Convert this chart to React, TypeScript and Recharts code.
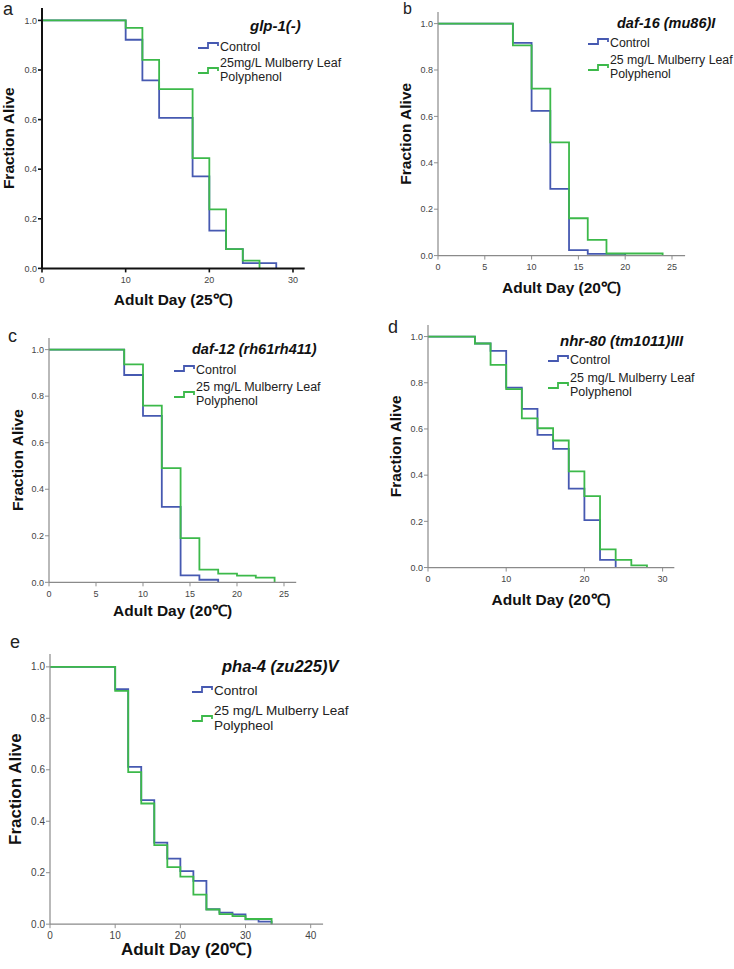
import { Label, Legend, Line, LineChart, XAxis, YAxis } from "recharts";

const BLUE = "#4659b1";
const GREEN = "#3cb94a";
const FONT = '"Liberation Sans", Arial, sans-serif';

// survival fractions, one step per scored day
const aCtrlDays = [0, 10, 12, 14, 18, 20, 22, 24, 28];
const aCtrl = [1, 0.922, 0.758, 0.607, 0.371, 0.152, 0.078, 0.021, 0];
const aTrtDays = [0, 10, 12, 14, 18, 20, 22, 24, 26];
const aTrt = [1, 0.97, 0.841, 0.723, 0.445, 0.238, 0.078, 0.031, 0];

const bCtrlDays = [0, 8, 10, 12, 14, 16, 20];
const bCtrl = [1, 0.917, 0.624, 0.288, 0.024, 0.007, 0];
const bTrtDays = [0, 8, 10, 12, 14, 16, 18, 24];
const bTrt = [1, 0.906, 0.72, 0.488, 0.161, 0.068, 0.009, 0];

const cCtrlDays = [0, 8, 10, 12, 14, 16, 18];
const cCtrl = [1, 0.891, 0.715, 0.324, 0.03, 0.011, 0];
const cTrtDays = [0, 8, 10, 12, 14, 16, 18, 20, 22, 24];
const cTrt = [1, 0.937, 0.759, 0.491, 0.19, 0.055, 0.037, 0.029, 0.02, 0];

const dCtrlDays = [0, 6, 8, 10, 12, 14, 16, 18, 20, 22, 24];
const dCtrl = [1, 0.97, 0.938, 0.779, 0.687, 0.574, 0.514, 0.342, 0.205, 0.033, 0];
const dTrtDays = [0, 6, 8, 10, 12, 14, 16, 18, 20, 22, 24, 26, 28];
const dTrt = [1, 0.97, 0.877, 0.772, 0.646, 0.603, 0.55, 0.416, 0.309, 0.079, 0.033, 0.009, 0];

const eCtrlDays = [0, 10, 12, 14, 16, 18, 20, 22, 24, 26, 28, 30, 32, 34];
const eCtrl = [1, 0.913, 0.611, 0.482, 0.317, 0.255, 0.206, 0.168, 0.058, 0.045, 0.038, 0.019, 0.01, 0];
const eTrtDays = [0, 10, 12, 14, 16, 18, 20, 22, 24, 26, 28, 30, 34];
const eTrt = [1, 0.907, 0.591, 0.469, 0.307, 0.222, 0.185, 0.115, 0.057, 0.039, 0.031, 0.02, 0];

const yTicks = [0, 0.2, 0.4, 0.6, 0.8, 1.0];
const ticks30 = [0, 10, 20, 30];
const ticks25 = [0, 5, 10, 15, 20, 25];
const ticks40 = [0, 10, 20, 30, 40];

const series = (days: number[], vals: number[]) => days.map((day, i) => ({ day, value: vals[i] }));

type Panel = {
  letter: string;
  letterPos: [number, number, number];
  title: string;
  titlePos: [number, number, number];
  xLabel: string;
  ctrl: { day: number; value: number }[];
  trt: { day: number; value: number }[];
  xTicks: number[];
  xMax: number;
  x0: number; // px of day 0
  xRef: [number, number]; // [day, px]
  y1: number; // px of 1.0
  y0: number; // px of 0.0
  yLabelX: number;
  xLabelBase: number;
  legend: { x: number; base: number; line1: string; line2: string; size: number; gap: number };
  axis: { color: string; width: number };
  big?: boolean;
};

const panels: Panel[] = [
  {
    letter: "a", letterPos: [3, 15, 18], title: "glp-1(-)", titlePos: [250, 31, 15],
    xLabel: "Adult Day (25℃)", ctrl: series(aCtrlDays, aCtrl), trt: series(aTrtDays, aTrt),
    xTicks: ticks30, xMax: 31.4, x0: 42, xRef: [30, 293], y1: 20, y0: 268,
    yLabelX: 9, xLabelBase: 305,
    legend: { x: 198, base: 51, line1: "25mg/L Mulberry Leaf", line2: "Polyphenol", size: 12.5, gap: 16 },
    axis: { color: "#111", width: 2 },
  },
  {
    letter: "b", letterPos: [403, 14, 16], title: "daf-16 (mu86)I", titlePos: [617, 28, 14.5],
    xLabel: "Adult Day (20℃)", ctrl: series(bCtrlDays, bCtrl), trt: series(bTrtDays, bTrt),
    xTicks: ticks25, xMax: 26.4, x0: 438, xRef: [25, 672], y1: 24, y0: 256,
    yLabelX: 405, xLabelBase: 293,
    legend: { x: 588, base: 47, line1: "25 mg/L Mulberry Leaf", line2: "Polyphenol", size: 12.3, gap: 17 },
    axis: { color: "#8a8a8a", width: 1.2 },
  },
  {
    letter: "c", letterPos: [8, 342, 18], title: "daf-12 (rh61rh411)", titlePos: [192, 354, 14.5],
    xLabel: "Adult Day (20℃)", ctrl: series(cCtrlDays, cCtrl), trt: series(cTrtDays, cTrt),
    xTicks: ticks25, xMax: 26.3, x0: 49, xRef: [25, 284], y1: 349.3, y0: 582,
    yLabelX: 18, xLabelBase: 616,
    legend: { x: 174, base: 374, line1: "25 mg/L Mulberry Leaf", line2: "Polyphenol", size: 12.5, gap: 17 },
    axis: { color: "#8a8a8a", width: 1.2 },
  },
  {
    letter: "d", letterPos: [388, 333, 18], title: "nhr-80 (tm1011)III", titlePos: [560, 346, 15],
    xLabel: "Adult Day (20℃)", ctrl: series(dCtrlDays, dCtrl), trt: series(dTrtDays, dTrt),
    xTicks: ticks30, xMax: 31.5, x0: 427.7, xRef: [30, 662.3], y1: 336.7, y0: 567.7,
    yLabelX: 395, xLabelBase: 605,
    legend: { x: 548, base: 364, line1: "25 mg/L Mulberry Leaf", line2: "Polyphenol", size: 12.5, gap: 18 },
    axis: { color: "#8a8a8a", width: 1.2 },
  },
  {
    letter: "e", letterPos: [10, 648, 18], title: "pha-4 (zu225)V", titlePos: [222, 672, 16.5],
    xLabel: "Adult Day (20℃)", ctrl: series(eCtrlDays, eCtrl), trt: series(eTrtDays, eTrt),
    xTicks: ticks40, xMax: 41.9, x0: 50, xRef: [40, 310.7], y1: 666.7, y0: 924,
    yLabelX: 15, xLabelBase: 955,
    legend: { x: 192, base: 695, line1: "25 mg/L Mulberry Leaf", line2: "Polypheol", size: 13.5, gap: 20 },
    axis: { color: "#8a8a8a", width: 1.2 },
    big: true,
  },
];

const Y_MAX = 1.05;
const Y_AXIS_W = 45;

function StepLegend({ lg }: { lg: Panel["legend"] }) {
  const b1 = 12;
  const b2 = b1 + lg.gap;
  const b3 = b2 + Math.ceil(lg.size) + 0.5;
  const txt = { fontFamily: FONT, fontSize: lg.size, fill: "#222" };
  return (
    <svg width={190} height={b3 + 6} style={{ display: "block" }}>
      <path d={`M0,${b1 - 3} H10 V${b1 - 8} H20 V${b1 - 5}`} stroke={BLUE} strokeWidth={1.8} fill="none" />
      <text x={22} y={b1} {...txt}>Control</text>
      <path d={`M0,${b2 + 6} H10 V${b2 + 1} H20 V${b2 + 4}`} stroke={GREEN} strokeWidth={1.8} fill="none" />
      <text x={22} y={b2} {...txt}>{lg.line1}</text>
      <text x={22} y={b3} {...txt}>{lg.line2}</text>
    </svg>
  );
}

function SurvivalPanel({ p }: { p: Panel }) {
  const pxPerDay = (p.xRef[1] - p.x0) / p.xRef[0];
  const plotRight = p.x0 + p.xMax * pxPerDay;
  const plotTop = p.y0 - Y_MAX * (p.y0 - p.y1);
  const mt = 2;
  const mr = 15;
  const left = p.x0 - Y_AXIS_W;
  const top = plotTop - mt;
  const width = plotRight + mr - left;
  const height = p.xLabelBase + 6 - top;
  const xh = height - mt - (p.y0 - plotTop);
  const tickFont = p.big ? 10 : 9;
  const titleFont = p.big ? 17 : 15.5;

  return (
    <div style={{ position: "absolute", left, top }}>
      <LineChart width={width} height={height} margin={{ top: mt, right: mr, bottom: 0, left: 0 }}>
        <XAxis
          type="number"
          dataKey="day"
          domain={[0, p.xMax]}
          ticks={p.xTicks}
          height={xh}
          stroke={p.axis.color}
          axisLine={{ strokeWidth: p.axis.width }}
          tickLine={{ strokeWidth: p.axis.width * 0.8 }}
          tickSize={4}
          tickMargin={4}
          tick={{ fontSize: tickFont, fill: "#444", fontFamily: FONT }}
        >
          <Label
            value={p.xLabel}
            position="insideBottom"
            offset={6}
            style={{ fontSize: titleFont, fontWeight: 700, fill: "#111", fontFamily: FONT }}
          />
        </XAxis>
        <YAxis
          type="number"
          domain={[0, Y_MAX]}
          ticks={yTicks}
          width={Y_AXIS_W}
          stroke={p.axis.color}
          axisLine={{ strokeWidth: p.axis.width }}
          tickLine={{ strokeWidth: p.axis.width * 0.8 }}
          tickSize={4}
          tickMargin={1}
          tickFormatter={(v: number) => v.toFixed(1)}
          tick={{ fontSize: tickFont, fill: "#444", fontFamily: FONT }}
        >
          <Label
            value="Fraction Alive"
            angle={-90}
            position="insideLeft"
            offset={p.yLabelX - left}
            style={{ textAnchor: "middle", fontSize: titleFont, fontWeight: 700, fill: "#111", fontFamily: FONT }}
          />
        </YAxis>
        <Legend
          layout="vertical"
          align="center"
          verticalAlign="middle"
          wrapperStyle={{ left: p.legend.x - left, top: p.legend.base - 12 - top, width: 190 }}
          content={() => <StepLegend lg={p.legend} />}
        />
        <Line
          data={p.ctrl}
          dataKey="value"
          name="Control"
          type="stepAfter"
          stroke={BLUE}
          strokeWidth={1.8}
          dot={false}
          isAnimationActive={false}
        />
        <Line
          data={p.trt}
          dataKey="value"
          name="Mulberry Leaf Polyphenol"
          type="stepAfter"
          stroke={GREEN}
          strokeWidth={1.8}
          dot={false}
          isAnimationActive={false}
        />
      </LineChart>
    </div>
  );
}

export default function App() {
  return (
    <div
      style={{
        position: "absolute",
        left: 0,
        top: 0,
        width: 734,
        height: 969,
        background: "#fff",
        fontFamily: FONT,
        overflow: "hidden",
      }}
    >
      {panels.map((p) => (
        <SurvivalPanel key={p.letter} p={p} />
      ))}
      <svg width={734} height={969} style={{ position: "absolute", left: 0, top: 0, pointerEvents: "none" }}>
        {panels.map((p) => (
          <g key={p.letter}>
            <text x={p.letterPos[0]} y={p.letterPos[1]} fontFamily={FONT} fontSize={p.letterPos[2]} fill="#222">
              {p.letter}
            </text>
            <text
              x={p.titlePos[0]}
              y={p.titlePos[1]}
              fontFamily={FONT}
              fontSize={p.titlePos[2]}
              fontWeight={700}
              fontStyle="italic"
              fill="#111"
            >
              {p.title}
            </text>
          </g>
        ))}
      </svg>
    </div>
  );
}
